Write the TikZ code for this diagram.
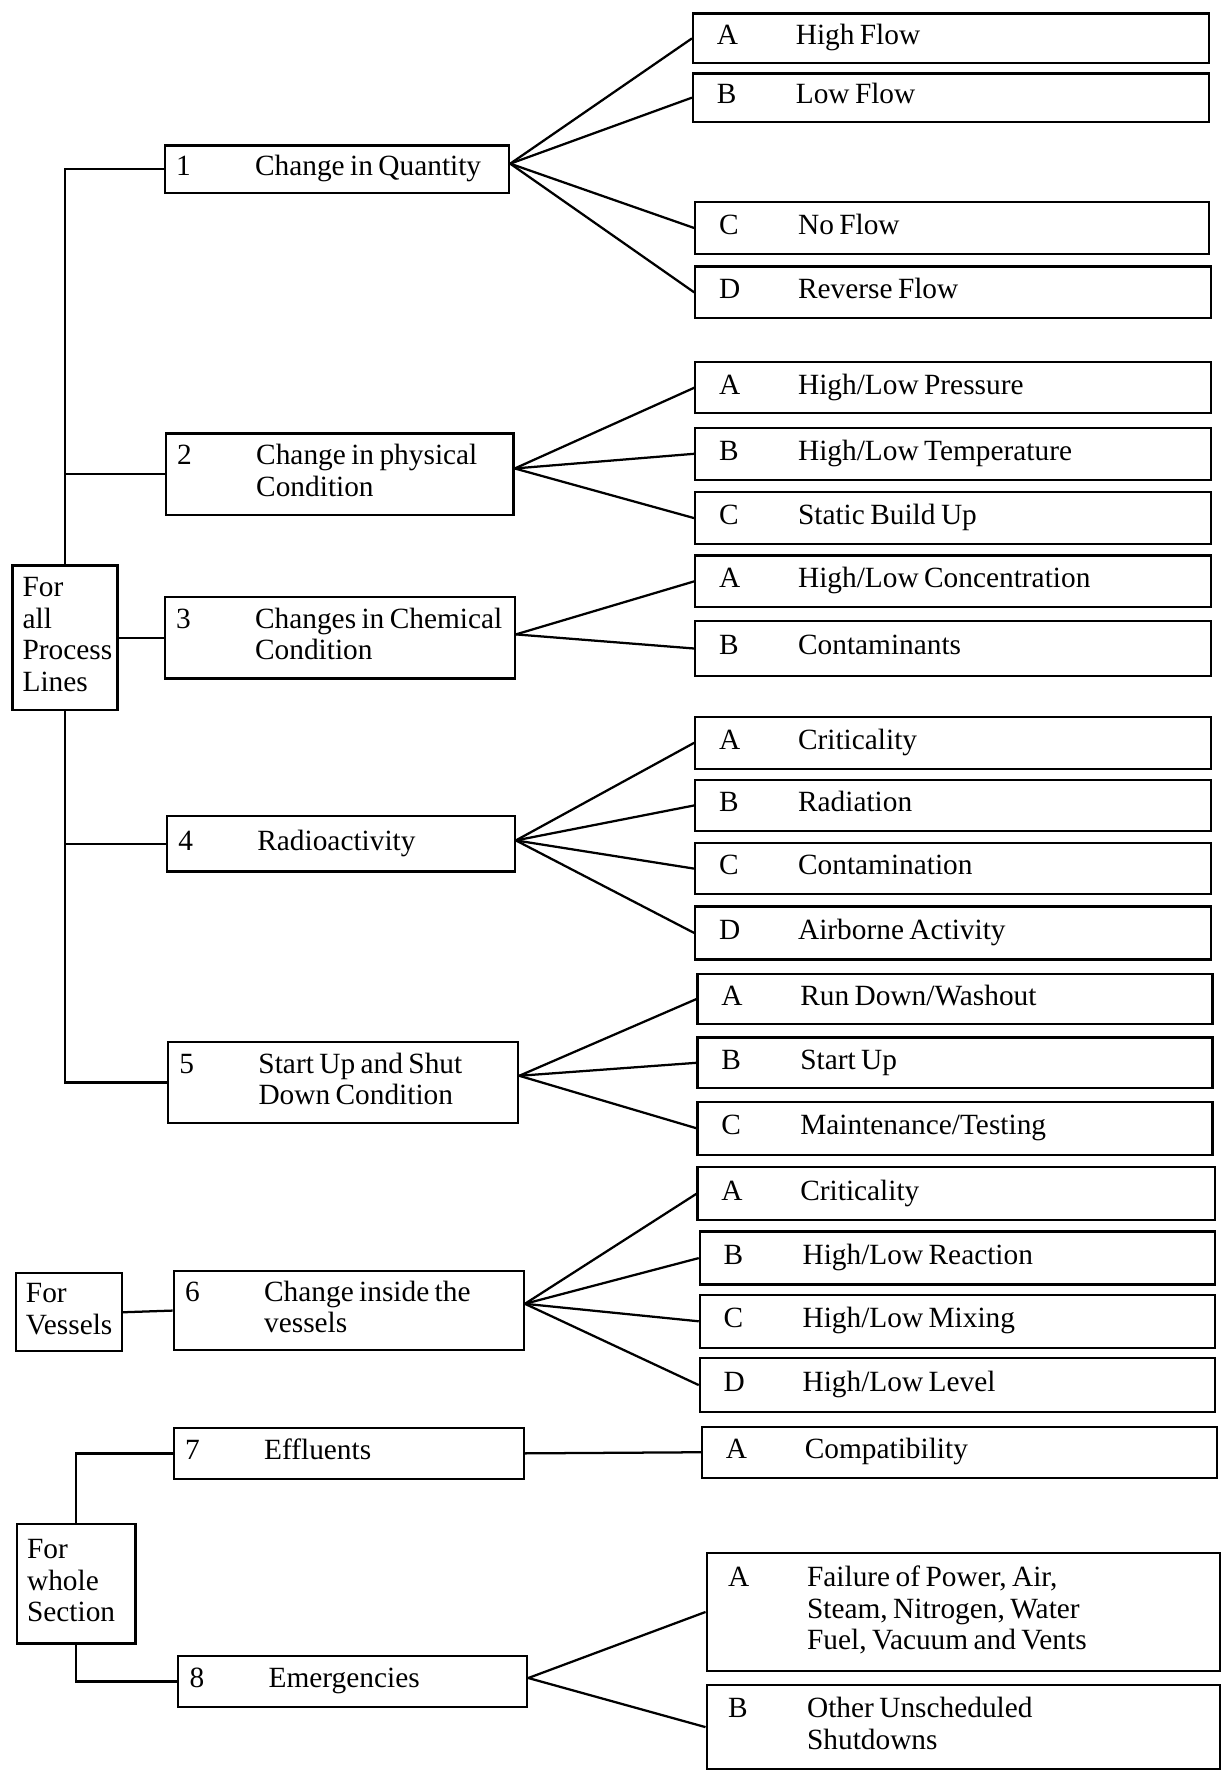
\documentclass[tikz,border=0pt]{standalone}
\usepackage{fontspec}
\setmainfont{Liberation Serif}
\newcommand\tightsp{\spaceskip=2.4pt plus 1pt minus 0.5pt\relax}
\newcommand\ent[2]{\noindent\tightsp\makebox[35pt][l]{#1}\begin{tabular}[t]{@{}l@{}}#2\end{tabular}}
\newcommand\rootent[1]{\noindent\tightsp\begin{tabular}[t]{@{}l@{}}#1\end{tabular}}
\newcommand\mybox[7]{%
  \pgfmathsetmacro\bw{(#4-#2-2*#6)*0.5}%
  \pgfmathsetmacro\bh{(#5-#3)*0.5}%
  \pgfmathsetmacro\bp{#6*0.5}%
  \node[boxsty, anchor=north west, inner xsep=\bp pt, text width=\bw pt, minimum height=\bh pt] (#1) at (#2,#3) {#7};}
\begin{document}
\begin{tikzpicture}[x=0.5pt,y=-0.5pt,
  boxsty/.style={draw, rectangle, line width=1pt, inner ysep=0pt, align=left, font=\fontsize{13}{14}\selectfont},
  link/.style={line width=1pt}]
\useasboundingbox (0,0) rectangle (1086,1568);

% root boxes
\mybox{r1}{10}{500}{103}{628}{9}{\rootent{For\\all\\Process\\Lines}}
\mybox{r2}{13}{1127}{107}{1196}{9}{\rootent{For\\Vessels}}
\mybox{r3}{14}{1349}{119}{1455}{9}{\rootent{For\\whole\\Section}}

% level 1 boxes
\mybox{b1}{145}{128}{450}{170}{10}{\ent{1}{Change in Quantity}}
\mybox{b2}{146}{383}{454}{455}{10}{\ent{2}{Change in physical\\Condition}}
\mybox{b3}{145}{528}{455}{600}{10}{\ent{3}{Changes in Chemical\\Condition}}
\mybox{b4}{147}{722}{455}{771}{10}{\ent{4}{Radioactivity}}
\mybox{b5}{148}{922}{458}{994}{10}{\ent{5}{Start Up and Shut\\Down Condition}}
\mybox{b6}{153}{1125}{463}{1195}{10}{\ent{6}{Change inside the\\vessels}}
\mybox{b7}{153}{1264}{463}{1309}{10}{\ent{7}{Effluents}}
\mybox{b8}{157}{1466}{466}{1511}{10}{\ent{8}{Emergencies}}

% level 2 boxes
\mybox{a1a}{613}{11}{1070}{55}{21}{\ent{A}{High Flow}}
\mybox{a1b}{613}{64}{1070}{107}{21}{\ent{B}{Low Flow}}
\mybox{a1c}{615}{178}{1070}{224}{21}{\ent{C}{No Flow}}
\mybox{a1d}{615}{235}{1072}{281}{21}{\ent{D}{Reverse Flow}}
\mybox{a2a}{615}{320}{1072}{365}{21}{\ent{A}{High/Low Pressure}}
\mybox{a2b}{615}{378}{1072}{424}{21}{\ent{B}{High/Low Temperature}}
\mybox{a2c}{615}{435}{1072}{481}{21}{\ent{C}{Static Build Up}}
\mybox{a3a}{615}{491}{1072}{537}{21}{\ent{A}{High/Low Concentration}}
\mybox{a3b}{615}{549}{1072}{598}{21}{\ent{B}{Contaminants}}
\mybox{a4a}{615}{634}{1072}{680}{21}{\ent{A}{Criticality}}
\mybox{a4b}{615}{690}{1072}{735}{21}{\ent{B}{Radiation}}
\mybox{a4c}{615}{746}{1072}{791}{21}{\ent{C}{Contamination}}
\mybox{a4d}{615}{802}{1072}{849}{21}{\ent{D}{Airborne Activity}}
\mybox{a5a}{617}{862}{1073}{906}{21}{\ent{A}{Run Down/Washout}}
\mybox{a5b}{617}{918}{1073}{963}{21}{\ent{B}{Start Up}}
\mybox{a5c}{617}{975}{1073}{1022}{21}{\ent{C}{Maintenance/Testing}}
\mybox{a6a}{617}{1033}{1075}{1080}{21}{\ent{A}{Criticality}}
\mybox{a6b}{619}{1090}{1075}{1137}{21}{\ent{B}{High/Low Reaction}}
\mybox{a6c}{619}{1146}{1075}{1193}{21}{\ent{C}{High/Low Mixing}}
\mybox{a6d}{619}{1202}{1075}{1250}{21}{\ent{D}{High/Low Level}}
\mybox{a7a}{621}{1263}{1077}{1308}{21}{\ent{A}{Compatibility}}
\mybox{a8a}{625}{1375}{1080}{1479}{19}{\ent{A}{Failure of Power, Air,\\Steam, Nitrogen, Water\\Fuel, Vacuum and Vents}}
\mybox{a8b}{625}{1492}{1080}{1566}{19}{\ent{B}{Other Unscheduled\\Shutdowns}}

% root connectors
\draw[link] (r1.north) |- (b1.west);
\draw[link] (r1.north |- b2.west) -- (b2.west);
\draw[link] (r1.east) -- (b3.west);
\draw[link] (r1.south) |- (b5.west);
\draw[link] (r1.south |- b4.west) -- (b4.west);
\draw[link] (r2.east) -- (b6.west);
\draw[link] (r3.north) |- (b7.west);
\draw[link] (r3.south) |- (b8.west);

% fan origins
\coordinate (f1) at ([yshift=2.5pt]b1.east);
\coordinate (f2) at ([yshift=2.5pt]b2.east);
\coordinate (f3) at ([yshift=1.5pt]b3.east);
\coordinate (f4) at ([yshift=1.5pt]b4.east);
\coordinate (f5) at ([yshift=3pt]b5.east);
\coordinate (f6) at ([yshift=3pt]b6.east);
\coordinate (f8) at ([yshift=1.5pt]b8.east);

\foreach \t in {a1a,a1b,a1c,a1d} \draw[link] (f1) -- (\t.west);
\foreach \t in {a2a,a2b,a2c} \draw[link] (f2) -- (\t.west);
\foreach \t in {a3a,a3b} \draw[link] (f3) -- (\t.west);
\foreach \t in {a4a,a4b,a4c,a4d} \draw[link] (f4) -- (\t.west);
\foreach \t in {a5a,a5b,a5c} \draw[link] (f5) -- (\t.west);
\foreach \t in {a6a,a6b,a6c,a6d} \draw[link] (f6) -- (\t.west);
\draw[link] (b7.east) -- (a7a.west);
\foreach \t in {a8a,a8b} \draw[link] (f8) -- (\t.west);
\end{tikzpicture}
\end{document}
